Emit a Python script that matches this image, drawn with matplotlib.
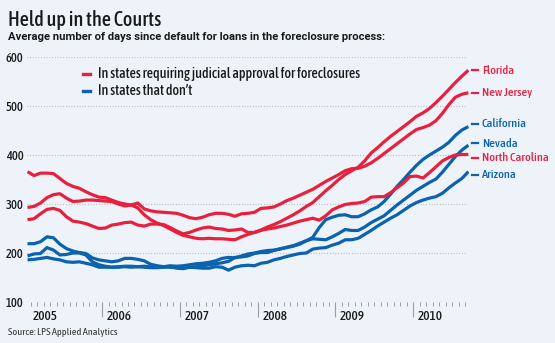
import numpy as np
import matplotlib
matplotlib.use("Agg")
import matplotlib.pyplot as plt
from matplotlib.lines import Line2D
from matplotlib.transforms import blended_transform_factory, offset_copy

plt.rcParams['font.family'] = ['Asap Condensed', 'Archivo Narrow', 'DejaVu Sans']

# Monthly readings, Jan 2005 .. Sep 2010 (average days since default)
start_year = 2005
n_months = 69

florida = [366, 358, 363, 363, 362, 352, 342, 336, 332, 325, 319, 314,
           313, 308, 303, 300, 298, 292, 278, 268, 261, 256, 249, 242,
           236, 233, 230, 229, 230, 229, 229, 228, 227, 233, 238, 242,
           247, 253, 258, 264, 271, 278, 286, 295, 303, 315, 327, 338,
           350, 360, 368, 375, 388, 404, 415, 427, 438, 448, 458, 468,
           479, 486, 495, 507, 520, 534, 548, 561, 573]
new_jersey = [293, 295, 302, 313, 319, 321, 312, 305, 306, 308, 308, 307,
              306, 305, 300, 296, 298, 302, 290, 286, 284, 283, 282, 281,
              277, 272, 270, 273, 278, 281, 281, 279, 275, 280, 281, 283,
              291, 292, 294, 300, 307, 312, 318, 324, 330, 338, 346, 353,
              360, 368, 372, 373, 377, 384, 393, 403, 413, 423, 433, 443,
              452, 456, 461, 470, 485, 503, 518, 524, 527]
north_carolina = [268, 270, 280, 289, 291, 287, 274, 265, 263, 260, 255, 250,
                  251, 257, 259, 262, 263, 257, 255, 259, 259, 258, 252, 245,
                  239, 242, 247, 251, 253, 250, 249, 246, 247, 249, 242, 242,
                  246, 249, 251, 254, 257, 261, 265, 268, 271, 267, 276, 288,
                  294, 299, 301, 302, 305, 314, 315, 315, 323, 333, 343, 356,
                  357, 353, 364, 376, 388, 395, 400, 401, 401]
california = [219, 219, 223, 233, 231, 218, 209, 204, 201, 199, 190, 186,
              184, 182, 184, 189, 189, 187, 184, 177, 174, 172, 171, 171,
              171, 171, 172, 174, 176, 178, 180, 183, 191, 192, 194, 199,
              201, 201, 205, 209, 211, 214, 218, 225, 232, 252, 268, 273,
              277, 278, 274, 274, 280, 288, 294, 305, 320, 336, 350, 365,
              379, 391, 400, 408, 416, 426, 440, 451, 458]
nevada = [194, 198, 199, 211, 206, 196, 197, 200, 200, 196, 182, 176,
          173, 171, 171, 172, 171, 172, 173, 172, 171, 172, 174, 173,
          174, 176, 178, 179, 181, 184, 189, 191, 190, 194, 198, 200,
          203, 205, 206, 208, 212, 215, 220, 225, 229, 228, 227, 233,
          240, 248, 246, 246, 253, 262, 269, 276, 287, 298, 308, 318,
          328, 336, 344, 351, 365, 381, 397, 410, 420]
arizona = [186, 187, 189, 191, 188, 186, 182, 181, 182, 179, 176, 171,
           171, 171, 172, 173, 173, 172, 171, 170, 170, 171, 172, 169,
           168, 171, 170, 169, 169, 172, 171, 165, 171, 174, 175, 174,
           179, 181, 186, 189, 193, 196, 199, 200, 208, 210, 211, 216,
           220, 227, 227, 230, 238, 246, 255, 263, 271, 278, 287, 296,
           303, 308, 312, 315, 322, 333, 343, 352, 366]

red_states = ["Florida", "New Jersey", "North Carolina"]
blue_states = ["California", "Nevada", "Arizona"]
series = {"Florida": florida, "New Jersey": new_jersey,
          "North Carolina": north_carolina, "California": california,
          "Nevada": nevada, "Arizona": arizona}

legend_labels = ["In states requiring judicial approval for foreclosures",
                 "In states that don\u2019t"]
y_ticks = [100, 200, 300, 400, 500, 600]
year_labels = [2005, 2006, 2007, 2008, 2009, 2010]

RED = "#e8203e"
BLUE = "#0b62ae"
BG = "#eef3fa"
GRID = "#a9adb3"
TXT = "#1a1a1a"

W, H = 555, 343
fig = plt.figure(figsize=(W / 100, H / 100), dpi=100, facecolor=BG)

x0, x1 = 2005.035, 2010.715
left_px, bottom_px, top_px = 27, 302, 57
width_px = (x1 - x0) * 77.8
ax = fig.add_axes([left_px / W, 1 - bottom_px / H, width_px / W,
                   (bottom_px - top_px) / H])
ax.set_facecolor(BG)
ax.set_xlim(x0, x1)
ax.set_ylim(100, 600)
for s in ax.spines.values():
    s.set_visible(False)

t = start_year + (np.arange(n_months) + 0.5) / 12.0

# dotted horizontal grid
ax.hlines(y_ticks, x0, 2010.68, colors=GRID, linestyles=(0, (0.6, 1.6)),
          linewidth=0.9, zorder=1)

for name in blue_states:
    ax.plot(t, series[name], color=BLUE, lw=2.3, solid_capstyle='butt',
            solid_joinstyle='round', zorder=3)
for name in red_states:
    ax.plot(t, series[name], color=RED, lw=2.3, solid_capstyle='butt',
            solid_joinstyle='round', zorder=4)

# y tick labels
ax.set_yticks(y_ticks)
ax.set_yticklabels([str(v) for v in y_ticks])
ax.tick_params(axis='y', length=0, pad=2.5, labelsize=9, labelcolor=TXT)
for lab in ax.get_yticklabels():
    lab.set_fontweight(500)

# monthly minor ticks and yearly major ticks
month_edges = [start_year + k / 12.0 for k in range(1, 6 * 12)]
month_edges = [m for m in month_edges if x0 < m < 2010.70 and abs(m - round(m)) > 1e-6]
ax.set_xticks([2006, 2007, 2008, 2009, 2010])
ax.set_xticks(month_edges, minor=True)
ax.set_xticklabels([])
ax.tick_params(axis='x', which='major', length=10.5, width=0.8,
               color="#9a9ea4", direction='out')
ax.tick_params(axis='x', which='minor', length=3, width=0.7,
               color="#9a9ea4", direction='out')

# year labels to the right of each year tick
bt = blended_transform_factory(ax.transData, ax.transAxes)
for yr in year_labels:
    xpos = max(yr, x0 + 0.02)
    tr = offset_copy(bt, fig=fig, x=4.5, y=-15, units='dots')
    ax.text(xpos, 0, str(yr), transform=tr, ha='left', va='center',
            fontsize=9.5, fontweight=500, color=TXT)

# series end labels
nudges = {"Florida": 0, "New Jersey": 0, "California": 3,
          "Nevada": 2, "North Carolina": -3, "Arizona": -3}
for name in red_states + blue_states:
    col = RED if name in red_states else BLUE
    yv = series[name][-1]
    ya = ax.transData.transform((0, yv))[1] + nudges[name]
    yf = ya / fig.bbox.height
    fig.add_artist(Line2D([472 / W, 478 / W], [yf, yf], color=col, lw=1.6))
    fig.text(482 / W, yf, name, color=col, fontsize=8.9, fontweight=500,
             ha='left', va='center')

# legend
for i, (lab, col) in enumerate(zip(legend_labels, [RED, BLUE])):
    yf = 1 - (74.3 + 16.3 * i) / H
    fig.add_artist(Line2D([83 / W, 90 / W], [yf, yf], color=col, lw=2.4))
    fig.text(98 / W, yf, lab, color=TXT, fontsize=10.1, fontweight=500,
             ha='left', va='center')

# titles and source
fig.text(8 / W, 1 - 19.5 / H, "Held up in the Courts", fontsize=14.6,
         fontweight=500, color=TXT, ha='left', va='center')
fig.text(8 / W, 1 - 37.5 / H,
         "Average number of days since default for loans in the foreclosure process:",
         fontsize=8.1, fontweight='bold', color=TXT, ha='left', va='center',
         family=['Roboto', 'DejaVu Sans'])
fig.text(8 / W, 1 - 332.5 / H, "Source: LPS Applied Analytics", fontsize=7.4,
         color="#333333", ha='left', va='center')

fig.savefig("out.png", dpi=100, facecolor=BG)
